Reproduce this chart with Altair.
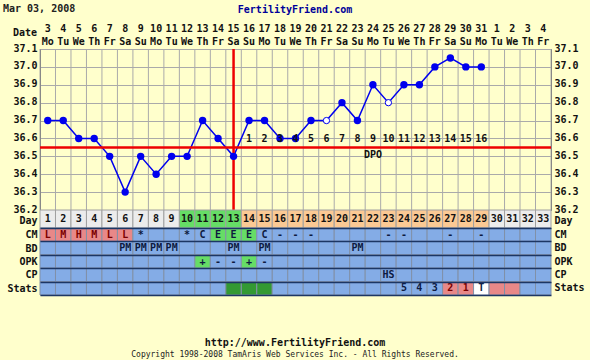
import altair as alt
import pandas as pd

# ---------------- data ----------------
dates = ["3", "4", "5", "6", "7", "8", "9", "10", "11", "12", "13", "14", "15", "16",
         "17", "18", "19", "20", "21", "22", "23", "24", "25", "26", "27", "28", "29",
         "30", "31", "1", "2", "3", "4"]
weekdays = ["Mo", "Tu", "We", "Th", "Fr", "Sa", "Su"] * 4 + ["Mo", "Tu", "We", "Th", "Fr"]
temps = [36.7, 36.7, 36.6, 36.6, 36.5, 36.3, 36.5, 36.4, 36.5, 36.5, 36.7, 36.6, 36.5,
         36.7, 36.7, 36.6, 36.6, 36.7, 36.7, 36.8, 36.7, 36.9, 36.8, 36.9, 36.9, 37.0,
         37.05, 37.0, 37.0]
open_days = [19, 23]
coverline = 36.55
ovulation_day = 13
dpo_days = list(range(14, 30))
dpo_labels = [str(i) for i in range(1, 17)]
dpo_title_day = 22

day_phase_fertile = [10, 11, 12, 13]
day_phase_luteal = list(range(14, 30))

cm_days = [1, 2, 3, 4, 5, 6, 7, 10, 11, 12, 13, 14, 15, 16, 17, 18, 23, 24, 27, 29]
cm_codes = ["L", "M", "H", "M", "L", "L", "*", "*", "C", "E", "E", "E", "C", "-", "-", "-",
            "-", "-", "-", "-"]
cm_flow_days = [1, 2, 3, 4, 5, 6]
cm_eggwhite_days = [12, 13, 14]
bd_days = [6, 7, 8, 9, 13, 15, 21]
opk_days = [11, 12, 13, 14, 15]
opk_codes = ["+", "-", "-", "+", "-"]
cp_days = [23]
cp_codes = ["HS"]
stats_fertile_days = [13, 14, 15]
stats_days = [24, 25, 26, 27, 28, 29]
stats_codes = ["5", "4", "3", "2", "1", "T"]
stats_pink_days = [27, 28, 30, 31]
stats_white_days = [29]

rows = ["CM", "BD", "OPK", "CP", "Stats"]
n_days = 33

chart_date = "Mar 03, 2008"
site_title = "FertilityFriend.com"
footer_url = "http://www.FertilityFriend.com"
footer_copy = "Copyright 1998-2008 TamAris Web Services Inc. - All Rights Reserved."

# ---------------- tables ----------------
FONT = "DejaVu Sans Mono"
XS = alt.Scale(domain=[0.5, n_days + 0.5], nice=False, zero=False)
YS = alt.Scale(domain=[36.2, 37.1], nice=False, zero=False)
yticks = [round(36.2 + 0.1 * i, 1) for i in range(10)]

temp_df = pd.DataFrame({"day": list(range(1, len(temps) + 1)), "temp": temps})
filled_df = temp_df[~temp_df.day.isin(open_days)]
open_df = temp_df[temp_df.day.isin(open_days)]
bounds_df = pd.DataFrame({"b": [d + 0.5 for d in range(0, n_days + 1)]})
cl_df = pd.DataFrame({"cl": [coverline]})
ov_df = pd.DataFrame({"ov": [ovulation_day]})
dpo_df = pd.DataFrame({"day": dpo_days, "lab": dpo_labels, "cl": coverline})
dpo_t_df = pd.DataFrame({"day": [dpo_title_day], "lab": ["DPO"], "cl": [coverline]})
head_df = pd.DataFrame({"day": list(range(1, n_days + 1)),
                        "lab": [f"{d}\n{w}" for d, w in zip(dates, weekdays)]})

day_df = pd.DataFrame({"day": list(range(1, n_days + 1))})
day_df["label"] = day_df.day.astype(str)
day_df["row"] = "Day"
day_df["kind"] = ["green" if d in day_phase_fertile else "peach" if d in day_phase_luteal
                  else "gray" for d in day_df.day]
day_df["x0"] = day_df.day - 0.5
day_df["x1"] = day_df.day + 0.5

recs = []
for r in rows:
    for d in range(1, n_days + 1):
        recs.append({"row": r, "day": d, "txt": "", "kind": "base", "tk": "n"})
cells = pd.DataFrame(recs)


def setv(row, day, col, val):
    cells.loc[(cells.row == row) & (cells.day == day), col] = val


for d, c in zip(cm_days, cm_codes):
    setv("CM", d, "txt", c)
for d in cm_flow_days:
    setv("CM", d, "kind", "pink")
    setv("CM", d, "tk", "r")
for d in cm_eggwhite_days:
    setv("CM", d, "kind", "green")
for d in bd_days:
    setv("BD", d, "txt", "PM")
for d, c in zip(opk_days, opk_codes):
    setv("OPK", d, "txt", c)
    if c == "+":
        setv("OPK", d, "kind", "green")
for d, c in zip(cp_days, cp_codes):
    setv("CP", d, "txt", c)
for d in stats_fertile_days:
    setv("Stats", d, "kind", "dkgreen")
for d, c in zip(stats_days, stats_codes):
    setv("Stats", d, "txt", c)
for d in stats_pink_days:
    setv("Stats", d, "kind", "pink")
    setv("Stats", d, "tk", "r")
for d in stats_white_days:
    setv("Stats", d, "kind", "white")
cells["x0"] = cells.day - 0.5
cells["x1"] = cells.day + 0.5

FILL = alt.Scale(domain=["base", "pink", "green", "dkgreen", "white", "gray", "peach"],
                 range=["#84ace6", "#e88888", "#66dd66", "#339933", "#ffffff", "#ececec",
                        "#fbc994"])
TCOL = alt.Scale(domain=["n", "r"], range=["#0e1a40", "#7a0000"])

txt_style = dict(font=FONT, fontWeight="bold", fontSize=10)

# ---------------- temperature panel ----------------
vgrid = alt.Chart(bounds_df).mark_rule(color="#aaaaaa", strokeWidth=1).encode(
    x=alt.X("b:Q", scale=XS, axis=None))

line = alt.Chart(temp_df).mark_line(color="#0000ee", strokeWidth=1.5).encode(
    x=alt.X("day:Q", scale=XS, axis=None),
    y=alt.Y("temp:Q", scale=YS, axis=alt.Axis(
        orient="left", values=yticks, format=".1f", grid=True, gridColor="#aaaaaa",
        ticks=False, domainColor="#666666", labelPadding=3, labelOffset=-1, title=None)))

cover = alt.Chart(cl_df).mark_rule(color="#ee0000", strokeWidth=2.5).encode(
    y=alt.Y("cl:Q", scale=YS, axis=None))
ovline = alt.Chart(ov_df).mark_rule(color="#ee0000", strokeWidth=2.5).encode(
    x=alt.X("ov:Q", scale=XS, axis=None))

pts = alt.Chart(filled_df).mark_point(filled=True, color="#0000ee", size=55, opacity=1).encode(
    x=alt.X("day:Q", scale=XS, axis=None),
    y=alt.Y("temp:Q", scale=YS, axis=alt.Axis(
        orient="right", values=yticks, format=".1f", grid=False, ticks=False,
        domainColor="#666666", labelPadding=3, labelOffset=-1, title=None)))
opts = alt.Chart(open_df).mark_point(filled=True, fill="#ffffff", stroke="#0000ee",
                                     strokeWidth=1, size=40, opacity=1).encode(
    x=alt.X("day:Q", scale=XS, axis=None),
    y=alt.Y("temp:Q", scale=YS, axis=None))

dpo = alt.Chart(dpo_df).mark_text(dy=-8, color="#111111", **txt_style).encode(
    x=alt.X("day:Q", scale=XS, axis=None),
    y=alt.Y("cl:Q", scale=YS, axis=None), text="lab:N")
dpo_t = alt.Chart(dpo_t_df).mark_text(dy=8, color="#111111", **txt_style).encode(
    x=alt.X("day:Q", scale=XS, axis=None),
    y=alt.Y("cl:Q", scale=YS, axis=None), text="lab:N")

# date header above the plot: day of month + weekday per column
head = alt.Chart(head_df).mark_text(lineBreak="\n", lineHeight=13, baseline="middle",
                                    color="#111111", **txt_style).encode(
    x=alt.X("day:Q", scale=XS, axis=None), y=alt.value(-20.5), text="lab:N")
head_title = alt.Chart(pd.DataFrame({"t": ["Date"]})).mark_text(
    align="right", baseline="middle", color="#111111", **txt_style).encode(
    x=alt.value(-3), y=alt.value(-16), text="t:N")

temp_group = alt.layer(vgrid, line, cover, ovline, pts, opts, dpo, dpo_t, head,
                       head_title).resolve_axis(y="independent")

# ---------------- day row ----------------
DAYS = alt.Scale(domain=["Day"], range=[161, 179], paddingInner=0, paddingOuter=0)
day_rect = alt.Chart(day_df).mark_rect(stroke="#a0a0a0", strokeWidth=1).encode(
    x=alt.X("x0:Q", scale=XS, axis=None), x2="x1:Q",
    y=alt.Y("row:N", scale=DAYS, axis=alt.Axis(
        orient="left", title=None, domain=False, ticks=False, labelPadding=3,
        labelOffset=2)),
    fill=alt.Fill("kind:N", scale=FILL, legend=None))
day_txt = alt.Chart(day_df).mark_text(color="#111111", **txt_style).encode(
    x=alt.X("day:Q", scale=XS, axis=None),
    y=alt.Y("row:N", scale=DAYS, axis=alt.Axis(
        orient="right", title=None, domain=False, ticks=False, labelPadding=3,
        labelOffset=2)),
    text="label:N")
day_group = alt.layer(day_rect, day_txt).resolve_axis(y="independent")

# ---------------- observation rows ----------------
ROWS = alt.Scale(domain=rows, range=[179, 246], paddingInner=0, paddingOuter=0)
row_rect = alt.Chart(cells).mark_rect(stroke="#8090a8", strokeWidth=1).encode(
    x=alt.X("x0:Q", scale=XS, axis=None), x2="x1:Q",
    y=alt.Y("row:N", scale=ROWS, axis=alt.Axis(
        orient="left", title=None, domain=False, ticks=False, labelPadding=3,
        grid=True, gridColor="#1c3664", gridWidth=1.5, tickBand="extent", zindex=1)),
    fill=alt.Fill("kind:N", scale=FILL, legend=None))
row_txt = alt.Chart(cells[cells.txt != ""]).mark_text(**txt_style).encode(
    x=alt.X("day:Q", scale=XS, axis=None),
    y=alt.Y("row:N", scale=ROWS, axis=alt.Axis(
        orient="right", title=None, domain=False, ticks=False, labelPadding=3)),
    text="txt:N",
    color=alt.Color("tk:N", scale=TCOL, legend=None))
rows_group = alt.layer(row_rect, row_txt).resolve_axis(y="independent")

# ---------------- header / footer text ----------------
hdr = alt.Chart(pd.DataFrame({"t": [chart_date]})).mark_text(
    align="left", baseline="middle", color="#222222", **txt_style).encode(
    x=alt.value(-37), y=alt.value(-40), text="t:N")
site = alt.Chart(pd.DataFrame({"t": [site_title]})).mark_text(
    align="center", baseline="middle", color="#000099", **txt_style).encode(
    x=alt.value(255), y=alt.value(-39), text="t:N")
foot1 = alt.Chart(pd.DataFrame({"t": [footer_url]})).mark_text(
    align="center", baseline="middle", color="#111111", **txt_style).encode(
    x=alt.value(255), y=alt.value(294), text="t:N")
foot2 = alt.Chart(pd.DataFrame({"t": [footer_copy]})).mark_text(
    align="center", baseline="middle", color="#222222", font=FONT, fontSize=8).encode(
    x=alt.value(255), y=alt.value(306), text="t:N")

chart = alt.layer(temp_group, day_group, rows_group, hdr, site, foot1, foot2).resolve_scale(
    y="independent"
).properties(
    width=511, height=161,
    padding={"left": 40, "top": 49, "right": 39, "bottom": 150},
    autosize=alt.AutoSizeParams(type="none"),
    background="#ffffcc",
).configure_axis(
    labelFont=FONT, labelFontWeight="bold", labelFontSize=10, labelColor="#111111",
    titleFont=FONT, titleFontWeight="bold", titleFontSize=10, titleColor="#111111",
).configure_view(stroke="#777777", fill="#ffffcc")

chart.save("out.html", embed_options={"renderer": "svg", "actions": False})
